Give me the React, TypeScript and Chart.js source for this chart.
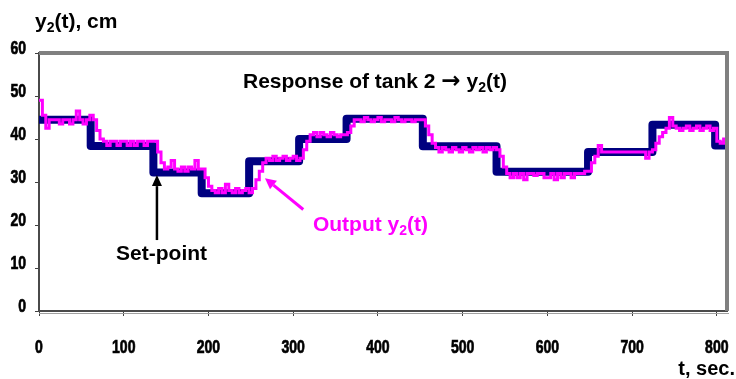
import React, { useEffect, useRef } from "react";
import { Chart, registerables } from "chart.js";

Chart.register(...registerables);

// ---- Data ----
// Set-point: value starts at each time and holds until the next time
const spTime = [0, 61, 135, 192, 248, 307, 363, 453, 540, 648, 724, 798, 812];
const spValue = [44.5, 38.4, 32.2, 27.4, 34.8, 40, 44.7, 38.3, 32.4, 37, 43.3, 38.5, 38.5];

// Output y2(t), sampled every outStep seconds starting at t = 0
const outStep = 4;
const outValue = [
  49, 45.5, 42.5, 44.5, 44.5, 44.5, 43.5, 44.5, 44.5, 43.5,
  44.5, 46.5, 44.5, 43.5, 44.5, 45.5, 44.5, 42, 40, 39.5,
  38.5, 39.5, 39.5, 38.5, 39.5, 39.5, 38.5, 39.5, 38.5, 39.5,
  39.5, 38.5, 39.5, 39.5, 39.5, 37, 34.5, 33, 33.5, 35,
  33, 32.5, 33.5, 32.5, 33.5, 33, 35, 33, 33, 31,
  29, 28, 27.5, 28.5, 27.5, 29.5, 28, 27.5, 28.5, 27.5,
  28, 28.5, 27.5, 28.5, 30.5, 32.5, 34.5, 35.5, 35, 36,
  35, 35.5, 36, 35, 35.5, 36, 35, 35.5, 37.5, 39.5,
  41, 41.5, 40.5, 41.5, 41, 40.5, 41.5, 41, 40.5, 41,
  41, 41.5, 43, 44.5, 44.5, 44, 45, 44.5, 44, 44.5,
  45, 44, 44.5, 44.5, 44, 45, 44.5, 44, 44.5, 44.5,
  44, 44.5, 44.5, 44.5, 43, 41, 39, 38, 37, 38,
  37.5, 37, 38, 37.5, 37, 38, 37.5, 37, 38, 37.5,
  38, 37, 38, 37.5, 38, 37.5, 36, 33.5, 32, 31,
  32, 31, 32, 30.5, 32, 32, 31.5, 32, 32, 31,
  31, 32, 30.5, 32, 31, 32, 32, 31, 32, 32,
  32, 32.5, 32.5, 34.5, 36, 38.5, 37, 37, 37, 37,
  37, 37, 37, 37, 37, 37, 37, 37, 37, 35.5,
  37, 37.5, 39, 40.5, 41.5, 42.5, 45, 43, 42.5, 42,
  42.5, 43, 42, 42.5, 43, 42, 42.5, 43, 42, 42.5,
  39.5, 39, 40, 39,
];

// Axis settings
const xMin = 0;
const xMax = 812;
const xStep = 100;
const yMin = 0;
const yMax = 60;
const yStep = 10;

// Texts
const yAxisTitle = ["y", "2", "(t), cm"];
const xAxisTitle = "t, sec.";
const chartTitle = ["Response of tank 2 ", "\u2192", " y", "2", "(t)"];
const setPointLabel = "Set-point";
const outputLabel = ["Output y", "2", "(t)"];

const FONT = '"Liberation Sans", Arial, Helvetica, sans-serif';

type Part = { t: string; sub?: boolean; font?: string };

function drawRich(
  ctx: CanvasRenderingContext2D,
  parts: Part[],
  x: number,
  y: number,
  size: number,
  color: string,
  align: "left" | "center" | "right"
) {
  const big = `bold ${size}px ${FONT}`;
  const small = `bold ${Math.round(size * 0.68)}px ${FONT}`;
  const fontOf = (p: Part) => p.font || (p.sub ? small : big);
  let total = 0;
  const widths = parts.map((p) => {
    ctx.font = fontOf(p);
    const w = ctx.measureText(p.t).width;
    total += w;
    return w;
  });
  let cx = x;
  if (align === "center") cx = x - total / 2;
  if (align === "right") cx = x - total;
  ctx.fillStyle = color;
  ctx.textAlign = "left";
  ctx.textBaseline = "alphabetic";
  parts.forEach((p, i) => {
    ctx.font = fontOf(p);
    ctx.fillText(p.t, cx, p.sub ? y + size * 0.18 : y);
    cx += widths[i];
  });
}

function drawArrow(
  ctx: CanvasRenderingContext2D,
  x1: number,
  y1: number,
  x2: number,
  y2: number,
  color: string,
  width: number,
  head: number,
  headW: number
) {
  const ang = Math.atan2(y2 - y1, x2 - x1);
  const bx = x2 - head * Math.cos(ang);
  const by = y2 - head * Math.sin(ang);
  ctx.strokeStyle = color;
  ctx.fillStyle = color;
  ctx.lineWidth = width;
  ctx.lineCap = "butt";
  ctx.beginPath();
  ctx.moveTo(x1, y1);
  ctx.lineTo(bx, by);
  ctx.stroke();
  ctx.beginPath();
  ctx.moveTo(x2, y2);
  ctx.lineTo(bx + headW * Math.sin(ang), by - headW * Math.cos(ang));
  ctx.lineTo(bx - headW * Math.sin(ang), by + headW * Math.cos(ang));
  ctx.closePath();
  ctx.fill();
}

const TICK_FONT = `bold 18px ${FONT}`;
const TICK_SQUEEZE = 0.78;

const annotPlugin = {
  id: "annotations",
  afterDraw(chart: any) {
    const ctx: CanvasRenderingContext2D = chart.ctx;
    const ca = chart.chartArea;
    const xs = chart.scales.x;
    const ys = chart.scales.y;
    const px = (t: number) => xs.getPixelForValue(t);
    const py = (v: number) => ys.getPixelForValue(v);
    ctx.save();

    // plot frame (top and right, grey)
    ctx.strokeStyle = "#808080";
    ctx.lineWidth = 4;
    ctx.beginPath();
    ctx.moveTo(ca.left, ca.top);
    ctx.lineTo(ca.right, ca.top);
    ctx.lineTo(ca.right, ca.bottom);
    ctx.stroke();
    // light shadow under the bottom axis
    ctx.strokeStyle = "#a0a0a0";
    ctx.lineWidth = 1;
    ctx.beginPath();
    ctx.moveTo(ca.left, ca.bottom + 2.5);
    ctx.lineTo(ca.right + 2, ca.bottom + 2.5);
    ctx.stroke();

    // tick labels (narrow bold), placed from the library's scale ticks
    ctx.font = TICK_FONT;
    ctx.fillStyle = "#000";
    ctx.strokeStyle = "#000";
    ctx.lineWidth = 0.7;
    ctx.textBaseline = "middle";
    xs.ticks.forEach((tk: any) => {
      const x = xs.getPixelForValue(tk.value);
      ctx.save();
      ctx.translate(x, ca.bottom + 37);
      ctx.scale(TICK_SQUEEZE, 1);
      ctx.textAlign = "center";
      ctx.fillText(String(tk.value), 0, 0);
      ctx.strokeText(String(tk.value), 0, 0);
      ctx.restore();
    });
    ys.ticks.forEach((tk: any) => {
      const y = ys.getPixelForValue(tk.value) - 4;
      ctx.save();
      ctx.translate(ca.left - 13, y);
      ctx.scale(TICK_SQUEEZE, 1);
      ctx.textAlign = "right";
      ctx.fillText(String(tk.value), 0, 0);
      ctx.strokeText(String(tk.value), 0, 0);
      ctx.restore();
    });

    // axis titles
    drawRich(ctx, [{ t: yAxisTitle[0] }, { t: yAxisTitle[1], sub: true }, { t: yAxisTitle[2] }], 35, 28, 21, "#000", "left");
    drawRich(ctx, [{ t: xAxisTitle }], 735, 375, 20, "#000", "right");

    // chart title inside plot
    drawRich(
      ctx,
      [
        { t: chartTitle[0] },
        { t: chartTitle[1], font: 'bold 23px "DejaVu Sans", sans-serif' },
        { t: chartTitle[2] },
        { t: chartTitle[3], sub: true },
        { t: chartTitle[4] },
      ],
      px(396.5),
      py(51.9),
      21,
      "#000",
      "center"
    );

    // Set-point annotation
    drawArrow(ctx, px(139.2), py(16.5), px(139.2), py(31.6), "#000", 2.5, 11, 5);
    drawRich(ctx, [{ t: setPointLabel }], px(91), py(11.9), 21, "#000", "left");

    // Output annotation
    drawArrow(ctx, px(311.9), py(23.6), px(266.7), py(30.9), "#ff00ff", 3, 11, 5.5);
    drawRich(
      ctx,
      [{ t: outputLabel[0] }, { t: outputLabel[1], sub: true }, { t: outputLabel[2] }],
      px(323.3),
      py(18.6),
      21,
      "#ff00ff",
      "left"
    );

    ctx.restore();
  },
};

export default function App() {
  const canvasRef = useRef<HTMLCanvasElement | null>(null);

  useEffect(() => {
    const canvas = canvasRef.current;
    if (!canvas) return;

    const spData = spTime.map((t, i) => ({ x: t, y: spValue[i] }));
    const outData = outValue.map((v, i) => ({ x: i * outStep, y: v }));

    const chart = new Chart(canvas, {
      type: "line",
      data: {
        datasets: [
          {
            label: "Output y2(t)",
            data: outData,
            borderColor: "#ff00ff",
            backgroundColor: "#ff00ff",
            borderWidth: 3,
            pointRadius: 0,
            stepped: true,
            fill: false,
            tension: 0,
          },
          {
            label: "Set-point",
            data: spData,
            borderColor: "#000080",
            backgroundColor: "#000080",
            borderWidth: 8,
            pointRadius: 0,
            stepped: true,
            fill: false,
            tension: 0,
            borderJoinStyle: "round",
            borderCapStyle: "round",
          },
        ],
      },
      options: {
        animation: false,
        responsive: false,
        devicePixelRatio: 1,
        events: [],
        layout: { padding: { top: 53, right: 9, left: 0, bottom: 0 } },
        plugins: {
          legend: { display: false },
          title: { display: false },
          tooltip: { enabled: false },
        },
        scales: {
          x: {
            type: "linear",
            min: xMin,
            max: xMax,
            afterFit: (s: any) => {
              s.height = 68;
            },
            border: { display: true, color: "#4a4a4a", width: 2 },
            grid: {
              display: true,
              drawOnChartArea: false,
              drawTicks: true,
              tickLength: 5,
              color: "#404040",
              lineWidth: 1,
            },
            ticks: {
              display: false,
              stepSize: xStep,
              includeBounds: false,
              autoSkip: false,
              maxRotation: 0,
            },
          },
          y: {
            type: "linear",
            min: yMin,
            max: yMax,
            afterFit: (s: any) => {
              s.width = 39;
            },
            border: { display: true, color: "#4a4a4a", width: 2 },
            grid: {
              display: true,
              drawOnChartArea: false,
              drawTicks: true,
              tickLength: 4,
              color: "#404040",
              lineWidth: 1,
            },
            ticks: {
              display: false,
              stepSize: yStep,
            },
          },
        },
      },
      plugins: [annotPlugin],
    } as any);

    return () => {
      chart.destroy();
    };
  }, []);

  return (
    <div style={{ position: "fixed", left: 0, top: 0, width: 736, height: 379, background: "#fff" }}>
      <canvas ref={canvasRef} width={736} height={379} style={{ display: "block" }} />
    </div>
  );
}
